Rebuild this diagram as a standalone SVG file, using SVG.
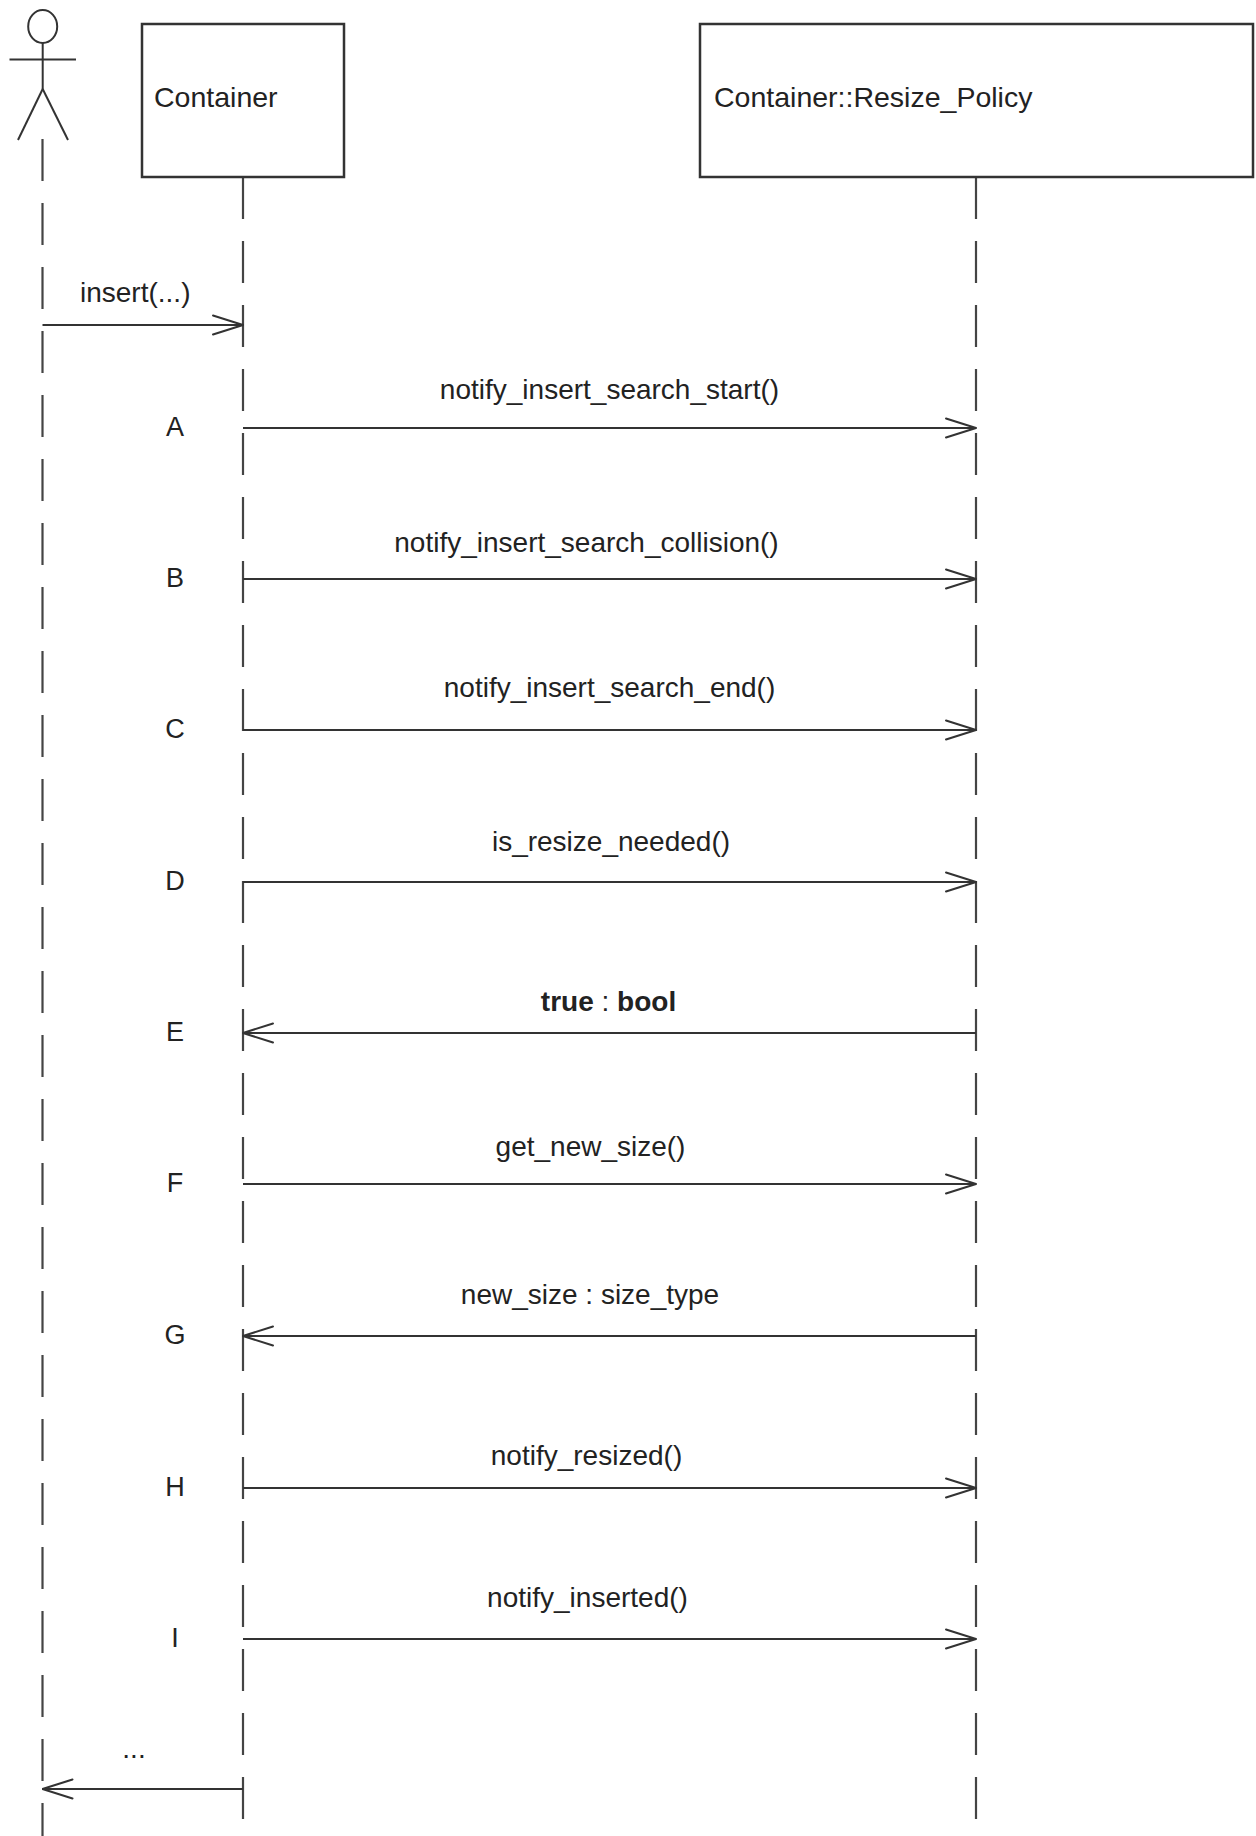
<svg xmlns="http://www.w3.org/2000/svg" width="1256" height="1836" viewBox="0 0 1256 1836">
<style>
  text { font-family: "Liberation Sans", Arial, sans-serif; fill: #222; }
  .lbl { font-size: 28px; text-anchor: middle; }
  .step { font-size: 27px; text-anchor: middle; }
  .box { fill: #fff; stroke: #333; stroke-width: 2.5; }
  .life { stroke: #444; stroke-width: 2.2; stroke-dasharray: 42 22; fill: none; }
  .msg { stroke: #333; stroke-width: 2; fill: none; marker-end: url(#arr); }
  .actor { stroke: #333; stroke-width: 2; fill: none; }
</style>
<defs>
  <marker id="arr" viewBox="0 0 32 22" refX="31" refY="11" markerWidth="32" markerHeight="22" markerUnits="userSpaceOnUse" orient="auto">
    <path d="M1,1.5 L31,11 L1,20.5" fill="none" stroke="#333" stroke-width="2" stroke-linejoin="round" stroke-linecap="round"/>
  </marker>
</defs>
<rect width="1256" height="1836" fill="#fff"/>

<g id="lifelines">
  <line class="life" x1="42.5" y1="139" x2="42.5" y2="1836"/>
  <line class="life" x1="243" y1="177" x2="243" y2="1836"/>
  <line class="life" x1="976" y1="177" x2="976" y2="1836"/>
</g>

<g id="actor">
  <ellipse class="actor" cx="42.7" cy="26.5" rx="14.5" ry="16.5"/>
  <line class="actor" x1="9.5" y1="59.5" x2="76" y2="59.5"/>
  <line class="actor" x1="42.7" y1="43" x2="42.7" y2="89"/>
  <line class="actor" x1="42.7" y1="89" x2="18" y2="140"/>
  <line class="actor" x1="42.7" y1="89" x2="68" y2="140"/>
</g>

<g id="container">
  <rect class="box" x="142" y="24" width="202" height="153"/>
  <text x="154" y="107" font-size="28.5">Container</text>
</g>

<g id="resize_policy">
  <rect class="box" x="700" y="24" width="553" height="153"/>
  <text x="714" y="107" font-size="28.5">Container::Resize_Policy</text>
</g>

<g id="connectors">
  <line class="msg" x1="42.5" y1="325" x2="243" y2="325"/>
  <line class="msg" x1="243" y1="428" x2="976" y2="428"/>
  <line class="msg" x1="243" y1="579" x2="976" y2="579"/>
  <line class="msg" x1="243" y1="730" x2="976" y2="730"/>
  <line class="msg" x1="243" y1="882" x2="976" y2="882"/>
  <line class="msg" x1="976" y1="1033" x2="243" y2="1033"/>
  <line class="msg" x1="243" y1="1184" x2="976" y2="1184"/>
  <line class="msg" x1="976" y1="1336" x2="243" y2="1336"/>
  <line class="msg" x1="243" y1="1488" x2="976" y2="1488"/>
  <line class="msg" x1="243" y1="1639" x2="976" y2="1639"/>
  <line class="msg" x1="243" y1="1789" x2="42.5" y2="1789"/>
</g>

<g id="labels">
  <text x="80" y="302" font-size="28">insert(...)</text>
  <text class="lbl" x="609.5" y="399">notify_insert_search_start()</text>
  <text class="lbl" x="586.5" y="552">notify_insert_search_collision()</text>
  <text class="lbl" x="609.5" y="697">notify_insert_search_end()</text>
  <text class="lbl" x="611" y="851">is_resize_needed()</text>
  <text class="lbl" x="608.5" y="1011"><tspan font-weight="bold">true</tspan> : <tspan font-weight="bold">bool</tspan></text>
  <text class="lbl" x="590.5" y="1156">get_new_size()</text>
  <text class="lbl" x="590" y="1304">new_size : size_type</text>
  <text class="lbl" x="586.5" y="1465">notify_resized()</text>
  <text class="lbl" x="587.5" y="1607">notify_inserted()</text>
  <text class="lbl" x="134" y="1758" font-size="24">...</text>
</g>

<g id="steps">
  <text class="step" x="175" y="436">A</text>
  <text class="step" x="175" y="587">B</text>
  <text class="step" x="175" y="738">C</text>
  <text class="step" x="175" y="890">D</text>
  <text class="step" x="175" y="1041">E</text>
  <text class="step" x="175" y="1192">F</text>
  <text class="step" x="175" y="1344">G</text>
  <text class="step" x="175" y="1496">H</text>
  <text class="step" x="175" y="1647">I</text>
</g>
</svg>
